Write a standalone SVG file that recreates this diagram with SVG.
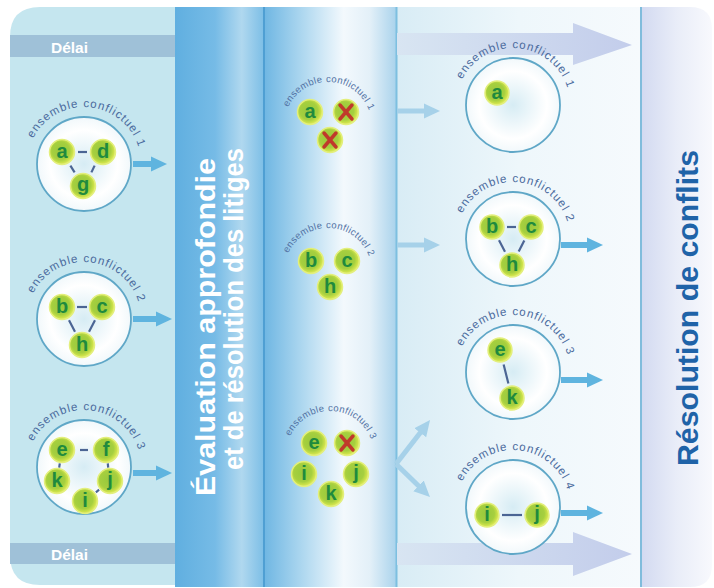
<svg xmlns="http://www.w3.org/2000/svg" width="714" height="588" viewBox="0 0 714 588">
<defs>
<style>
.set{fill:url(#gCircle);stroke:#5fa7c7;stroke-width:1.8}
.lbl{font-family:'Liberation Sans',Arial,sans-serif;font-size:11.5px;fill:#4a6a9d;letter-spacing:1px}
.lblm{font-family:'Liberation Sans',Arial,sans-serif;font-size:9.5px;fill:#5272a4;letter-spacing:0.4px}
.ball circle{fill:url(#gBall);stroke:#e3ef7c;stroke-width:1.5}
.ball text{font-family:'Liberation Sans',Arial,sans-serif;font-weight:bold;font-size:20px;fill:#1f8a3e;text-anchor:middle}
.edge{stroke:#4b6594;stroke-width:2.2;fill:none}
.arr{stroke:#5fb4df;stroke-width:6;marker-end:url(#mA);fill:none}
.arrl{stroke:#a6d1e9;stroke-width:5;marker-end:url(#mL);fill:none}
.x{stroke:#c0392b;stroke-width:3.5;stroke-linecap:round}
.delai{font-family:'Liberation Sans',Arial,sans-serif;font-weight:bold;font-size:15.5px;fill:#ffffff}
.vt{font-family:'Liberation Sans',Arial,sans-serif;font-weight:bold}
</style>
<linearGradient id="gBand1" x1="0" y1="0" x2="1" y2="0">
<stop offset="0" stop-color="#60afe0"/><stop offset="0.45" stop-color="#76bbe6"/><stop offset="0.75" stop-color="#b0d8ef"/><stop offset="1" stop-color="#7cbee6"/>
</linearGradient>
<linearGradient id="gBand2" x1="0" y1="0" x2="1" y2="0">
<stop offset="0" stop-color="#70b7e3"/><stop offset="0.3" stop-color="#b1d9f0"/><stop offset="0.6" stop-color="#f3f9fd"/><stop offset="0.8" stop-color="#e3f0f8"/><stop offset="1" stop-color="#aad3ec"/>
</linearGradient>
<linearGradient id="gArea" x1="0" y1="0" x2="1" y2="0">
<stop offset="0" stop-color="#d8ecf5"/><stop offset="0.5" stop-color="#eef7fb"/><stop offset="1" stop-color="#f6fafd"/>
</linearGradient>
<linearGradient id="gRight" x1="0" y1="0" x2="1" y2="0">
<stop offset="0" stop-color="#d3daf1"/><stop offset="0.5" stop-color="#e9edf8"/><stop offset="1" stop-color="#f8f9fd"/>
</linearGradient>
<linearGradient id="gBig" x1="0" y1="0" x2="1" y2="0">
<stop offset="0" stop-color="#d8e5f2"/><stop offset="1" stop-color="#c3cdeb"/>
</linearGradient>
<radialGradient id="gCircle" cx="0.5" cy="0.5" r="0.5">
<stop offset="0" stop-color="#d6ecf4"/><stop offset="0.72" stop-color="#ffffff"/><stop offset="1" stop-color="#f1f8fb"/>
</radialGradient>
<radialGradient id="gBall" cx="0.45" cy="0.45" r="0.55">
<stop offset="0" stop-color="#97c93c"/><stop offset="0.65" stop-color="#a6cf3f"/><stop offset="0.88" stop-color="#cde24a"/><stop offset="1" stop-color="#e2ed6e"/>
</radialGradient>
<marker id="mA" markerUnits="userSpaceOnUse" markerWidth="16" markerHeight="16" refX="6" refY="8" orient="auto"><path d="M0,0.5 L16,8 L0,15.5 Z" fill="#5fb4df"/></marker>
<marker id="mL" markerUnits="userSpaceOnUse" markerWidth="16" markerHeight="16" refX="6" refY="8" orient="auto"><path d="M0,0.5 L16,8 L0,15.5 Z" fill="#a6d1e9"/></marker>
<path id="arcL1" d="M30.44,144.51 A57,57 0 0 1 140.13,154.10"/>
<path id="arcL2" d="M30.44,299.51 A57,57 0 0 1 140.13,309.10"/>
<path id="arcL3" d="M30.44,447.51 A57,57 0 0 1 140.13,457.10"/>
<path id="arcR1" d="M459.44,85.51 A57,57 0 0 1 569.13,95.10"/>
<path id="arcR2" d="M459.44,219.51 A57,57 0 0 1 569.13,229.10"/>
<path id="arcR3" d="M459.44,352.51 A57,57 0 0 1 569.13,362.10"/>
<path id="arcR4" d="M459.44,487.51 A57,57 0 0 1 569.13,497.10"/>
<path id="arcM1" d="M288.12,107.41 A44,44 0 0 1 369.35,110.95"/>
<path id="arcM2" d="M288.12,253.41 A44,44 0 0 1 369.35,256.95"/>
<path id="arcM3" d="M290.12,436.41 A44,44 0 0 1 371.35,439.95"/>
</defs>

<g id="background">
<rect x="0" y="0" width="714" height="588" fill="#ffffff"/>
<path d="M10,37 Q10,7 40,7 L176,7 L176,585 L40,585 Q10,585 10,555 Z" fill="#c5e6ef"/>
<rect x="10" y="35" width="166" height="22" fill="#9fc1d8"/>
<rect x="10" y="543" width="166" height="21" fill="#9fc1d8"/>
<text class="delai" x="51" y="53">Délai</text>
<text class="delai" x="51" y="560">Délai</text>
<rect x="175" y="7" width="89" height="580" fill="url(#gBand1)"/>
<rect x="265" y="7" width="131" height="580" fill="url(#gBand2)"/>
<rect x="397" y="7" width="244" height="580" fill="url(#gArea)"/>
<path d="M642,7 L690,7 Q712,7 712,29 L712,565 Q712,587 690,587 L642,587 Z" fill="url(#gRight)"/>
<line x1="264" y1="7" x2="264" y2="587" stroke="#4f9fd3" stroke-width="2"/>
<line x1="396.5" y1="7" x2="396.5" y2="587" stroke="#7dbfe0" stroke-width="2"/>
<line x1="641" y1="7" x2="641" y2="587" stroke="#80bcdc" stroke-width="2"/>
<polygon points="397,33 573,33 573,23 632,45 573,65 573,55 397,55" fill="url(#gBig)"/>
<polygon points="397,543 573,543 573,532 632,554 573,576 573,565 397,565" fill="url(#gBig)"/>
<text class="vt" transform="translate(215,496) rotate(-90)" font-size="27" fill="#ffffff" textLength="338" lengthAdjust="spacingAndGlyphs">Évaluation approfondie</text>
<text class="vt" transform="translate(243,470) rotate(-90)" font-size="27" fill="#ffffff" textLength="322" lengthAdjust="spacingAndGlyphs">et de résolution des litiges</text>
<text class="vt" transform="translate(698,466) rotate(-90)" font-size="30" fill="#1f63a8" textLength="316" lengthAdjust="spacingAndGlyphs">Résolution de conflits</text>
</g>

<g id="sets">
<g id="set-L1"><circle class="set" cx="84" cy="164" r="47"/><text class="lbl"><textPath href="#arcL1" startOffset="50%" text-anchor="middle">ensemble conflictuel 1</textPath></text></g>
<g id="set-L2"><circle class="set" cx="84" cy="319" r="47"/><text class="lbl"><textPath href="#arcL2" startOffset="50%" text-anchor="middle">ensemble conflictuel 2</textPath></text></g>
<g id="set-L3"><circle class="set" cx="84" cy="467" r="47"/><text class="lbl"><textPath href="#arcL3" startOffset="50%" text-anchor="middle">ensemble conflictuel 3</textPath></text></g>
<g id="set-M1"><text class="lblm"><textPath href="#arcM1" startOffset="50%" text-anchor="middle">ensemble conflictuel 1</textPath></text></g>
<g id="set-M2"><text class="lblm"><textPath href="#arcM2" startOffset="50%" text-anchor="middle">ensemble conflictuel 2</textPath></text></g>
<g id="set-M3"><text class="lblm"><textPath href="#arcM3" startOffset="50%" text-anchor="middle">ensemble conflictuel 3</textPath></text></g>
<g id="set-R1"><circle class="set" cx="513" cy="105" r="47"/><text class="lbl"><textPath href="#arcR1" startOffset="50%" text-anchor="middle">ensemble conflictuel 1</textPath></text></g>
<g id="set-R2"><circle class="set" cx="513" cy="239" r="47"/><text class="lbl"><textPath href="#arcR2" startOffset="50%" text-anchor="middle">ensemble conflictuel 2</textPath></text></g>
<g id="set-R3"><circle class="set" cx="513" cy="372" r="47"/><text class="lbl"><textPath href="#arcR3" startOffset="50%" text-anchor="middle">ensemble conflictuel 3</textPath></text></g>
<g id="set-R4"><circle class="set" cx="513" cy="507" r="47"/><text class="lbl"><textPath href="#arcR4" startOffset="50%" text-anchor="middle">ensemble conflictuel 4</textPath></text></g>
</g>

<g id="connectors">
<line class="edge" x1="78" y1="152" x2="87" y2="152"/>
<line class="edge" x1="70.4" y1="165.6" x2="74.6" y2="172.4"/>
<line class="edge" x1="94.6" y1="165.6" x2="91.4" y2="172.4"/>
<line class="edge" x1="77" y1="307" x2="87" y2="307"/>
<line class="edge" x1="69" y1="320.3" x2="75" y2="331.7"/>
<line class="edge" x1="95" y1="320.3" x2="89" y2="331.7"/>
<line class="edge" x1="80" y1="450" x2="88" y2="450"/>
<line class="edge" x1="59.8" y1="463.4" x2="59.2" y2="467.6"/>
<line class="edge" x1="107.8" y1="463.4" x2="108.2" y2="467.6"/>
<line class="edge" x1="95.9" y1="492.3" x2="99.1" y2="489.7"/>
<line class="edge" x1="507" y1="227" x2="516" y2="227"/>
<line class="edge" x1="499" y1="240.3" x2="505" y2="251.7"/>
<line class="edge" x1="524.3" y1="240.4" x2="518.7" y2="251.6"/>
<line class="edge" x1="503.6" y1="364.5" x2="508.4" y2="383.5"/>
<line class="edge" x1="502" y1="515" x2="522" y2="515"/>
<line class="arr" x1="133" y1="164" x2="157" y2="164"/>
<line class="arr" x1="133" y1="319" x2="162" y2="319"/>
<line class="arr" x1="133" y1="473" x2="162" y2="473"/>
<line class="arrl" x1="397" y1="111" x2="430" y2="111"/>
<line class="arrl" x1="397" y1="245" x2="430" y2="245"/>
<line class="arrl" x1="396" y1="464" x2="423.9" y2="428"/>
<line class="arrl" x1="396" y1="464" x2="422.8" y2="490"/>
<line class="arr" x1="561" y1="245" x2="593" y2="245"/>
<line class="arr" x1="561" y1="380" x2="593" y2="380"/>
<line class="arr" x1="561" y1="513" x2="593" y2="513"/>
</g>

<g id="nodes">
<g id="L1-a" class="ball" transform="translate(62,152)"><circle r="12.5"/><text y="6">a</text></g>
<g id="L1-d" class="ball" transform="translate(103,152)"><circle r="12.5"/><text y="6">d</text></g>
<g id="L1-g" class="ball" transform="translate(83,186)"><circle r="12.5"/><text y="5">g</text></g>
<g id="L2-b" class="ball" transform="translate(62,307)"><circle r="12.5"/><text y="6">b</text></g>
<g id="L2-c" class="ball" transform="translate(102,307)"><circle r="12.5"/><text y="6">c</text></g>
<g id="L2-h" class="ball" transform="translate(82,345)"><circle r="12.5"/><text y="6">h</text></g>
<g id="L3-e" class="ball" transform="translate(62,450)"><circle r="12.5"/><text y="6">e</text></g>
<g id="L3-f" class="ball" transform="translate(106,450)"><circle r="12.5"/><text y="6">f</text></g>
<g id="L3-k" class="ball" transform="translate(57,481)"><circle r="12.5"/><text y="6">k</text></g>
<g id="L3-j" class="ball" transform="translate(110,481)"><circle r="12.5"/><text y="5">j</text></g>
<g id="L3-i" class="ball" transform="translate(85,501)"><circle r="12.5"/><text y="6">i</text></g>

<g id="M1-a" class="ball" transform="translate(310,112)"><circle r="12.5"/><text y="6">a</text></g>
<g id="M1-x1" class="ball" transform="translate(346,112)"><circle r="12.5"/><line class="x" x1="-6" y1="-7" x2="6" y2="7"/><line class="x" x1="6" y1="-7" x2="-6" y2="7"/></g>
<g id="M1-x2" class="ball" transform="translate(330,140)"><circle r="12.5"/><line class="x" x1="-6" y1="-7" x2="6" y2="7"/><line class="x" x1="6" y1="-7" x2="-6" y2="7"/></g>
<g id="M2-b" class="ball" transform="translate(311,261)"><circle r="12.5"/><text y="6">b</text></g>
<g id="M2-c" class="ball" transform="translate(347,261)"><circle r="12.5"/><text y="6">c</text></g>
<g id="M2-h" class="ball" transform="translate(330,287)"><circle r="12.5"/><text y="6">h</text></g>
<g id="M3-e" class="ball" transform="translate(314,443)"><circle r="12.5"/><text y="6">e</text></g>
<g id="M3-x" class="ball" transform="translate(347,443)"><circle r="12.5"/><line class="x" x1="-6" y1="-7" x2="6" y2="7"/><line class="x" x1="6" y1="-7" x2="-6" y2="7"/></g>
<g id="M3-i" class="ball" transform="translate(304,474)"><circle r="12.5"/><text y="6">i</text></g>
<g id="M3-j" class="ball" transform="translate(356,474)"><circle r="12.5"/><text y="5">j</text></g>
<g id="M3-k" class="ball" transform="translate(331,494)"><circle r="12.5"/><text y="6">k</text></g>

<g id="R1-a" class="ball" transform="translate(497,93)"><circle r="12"/><text y="6">a</text></g>
<g id="R2-b" class="ball" transform="translate(492,227)"><circle r="12"/><text y="6">b</text></g>
<g id="R2-c" class="ball" transform="translate(531,227)"><circle r="12"/><text y="6">c</text></g>
<g id="R2-h" class="ball" transform="translate(512,265)"><circle r="12"/><text y="6">h</text></g>
<g id="R3-e" class="ball" transform="translate(500,350)"><circle r="12"/><text y="6">e</text></g>
<g id="R3-k" class="ball" transform="translate(512,398)"><circle r="12"/><text y="6">k</text></g>
<g id="R4-i" class="ball" transform="translate(487,515)"><circle r="12"/><text y="6">i</text></g>
<g id="R4-j" class="ball" transform="translate(537,515)"><circle r="12"/><text y="5">j</text></g>
</g>
</svg>
